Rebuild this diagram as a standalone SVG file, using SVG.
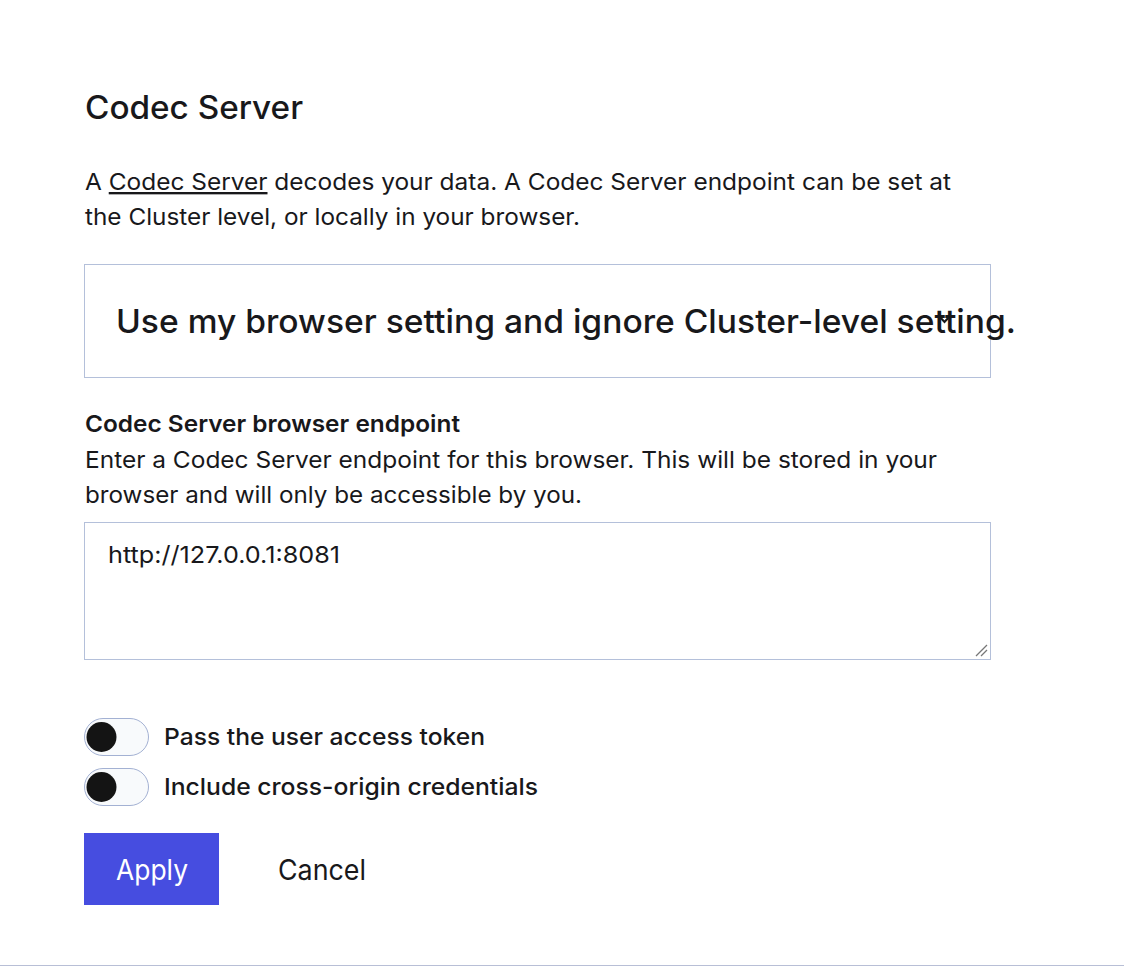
<svg xmlns="http://www.w3.org/2000/svg" width="1124" height="966" viewBox="0 0 1124 966">
<style>
text{font-family:Inter,"Noto Sans","Liberation Sans",sans-serif;fill:#18181b}
.p{font-size:23.5px}
.box{fill:#fff;stroke:#b4c0da;stroke-width:1}
.track{fill:#f8fafc;stroke:#a3b1d3;stroke-width:1}
.knob{fill:#141414}
</style>
<rect width="1124" height="966" fill="#fff"/>
<g id="title"><text x="85" y="119" font-size="32" font-weight="500" textLength="218" lengthAdjust="spacingAndGlyphs">Codec Server</text></g>
<g id="intro">
<text class="p" x="85" y="190" textLength="866" lengthAdjust="spacingAndGlyphs">A <tspan text-decoration="underline">Codec Server</tspan> decodes your data. A Codec Server endpoint can be set at</text>
<text class="p" x="85" y="225" textLength="495" lengthAdjust="spacingAndGlyphs">the Cluster level, or locally in your browser.</text>
</g>
<g id="select">
<rect class="box" x="84.5" y="264.5" width="906" height="113"/>
<text x="116" y="333" font-size="33" font-weight="500" textLength="900" lengthAdjust="spacingAndGlyphs">Use my browser setting and ignore Cluster-level setting.</text>
<path d="M938 315 L944.5 322 L951 315" fill="none" stroke="#18181b" stroke-width="2.2"/>
</g>
<g id="endpoint">
<text class="p" x="85" y="432" font-weight="600" textLength="375" lengthAdjust="spacingAndGlyphs">Codec Server browser endpoint</text>
<text class="p" x="85" y="468" textLength="852" lengthAdjust="spacingAndGlyphs">Enter a Codec Server endpoint for this browser. This will be stored in your</text>
<text class="p" x="85" y="503" textLength="497" lengthAdjust="spacingAndGlyphs">browser and will only be accessible by you.</text>
<rect class="box" x="84.5" y="522.5" width="906" height="137"/>
<text class="p" x="108" y="563" textLength="232" lengthAdjust="spacingAndGlyphs">http://127.0.0.1:8081</text>
<path d="M976 656 L987 645 M981 656 L987 650" stroke="#777" stroke-width="1.3"/>
</g>
<g id="toggle1">
<rect class="track" x="84.5" y="718.5" width="64" height="37" rx="18.5"/>
<circle class="knob" cx="101.5" cy="737" r="15"/>
<text class="p" x="164" y="745" font-weight="500" textLength="321" lengthAdjust="spacingAndGlyphs">Pass the user access token</text>
</g>
<g id="toggle2">
<rect class="track" x="84.5" y="768.5" width="64" height="37" rx="18.5"/>
<circle class="knob" cx="101.5" cy="787" r="15"/>
<text class="p" x="164" y="795" font-weight="500" textLength="374" lengthAdjust="spacingAndGlyphs">Include cross-origin credentials</text>
</g>
<g id="apply">
<rect x="84" y="833" width="135" height="72" fill="#464de0"/>
<text x="116" y="880" font-size="28" style="fill:#fff" textLength="72" lengthAdjust="spacingAndGlyphs">Apply</text>
</g>
<g id="cancel"><text x="278" y="880" font-size="28" textLength="88" lengthAdjust="spacingAndGlyphs">Cancel</text></g>
<g id="connectors"/>
<line x1="0" y1="965.5" x2="1124" y2="965.5" stroke="#b8bfd6" stroke-width="1"/>
</svg>
